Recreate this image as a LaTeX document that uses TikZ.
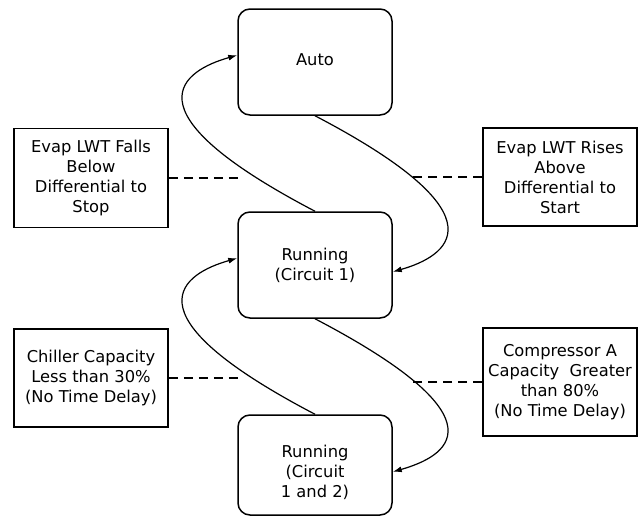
\documentclass[tikz,border=0pt]{standalone}
\usepackage{fontspec}
\setmainfont{DejaVu Sans}
\usetikzlibrary{arrows.meta}
\begin{document}
\begin{tikzpicture}[x=1pt,y=-1pt,
  txt/.style={align=center, font=\fontsize{16.3}{20}\selectfont},
  state/.style={draw, line width=1.5pt, rounded corners=12pt, minimum width=154pt, minimum height=106pt, txt, inner sep=0pt},
  cond/.style={draw, line width=1.7pt, minimum width=154pt, txt, inner sep=0pt},
  trans/.style={-{Latex[length=9pt,width=6pt]}, line width=1.2pt},
  link/.style={dash pattern=on 9pt off 6pt, line width=1.5pt}]
\useasboundingbox (0,0) rectangle (638,517);
% states
\node[state] (auto) at (315,62) {\raisebox{4pt}{Auto}};
\node[state] (r1) at (315,265) {Running\\(Circuit 1)};
\node[state, minimum height=100pt, label={[txt, yshift=-7pt]center:Running\\(Circuit\\1 and 2)}] (r2) at (315,465) {};
% conditions
\node[cond, minimum height=99pt] (lb1) at (91,178) {Evap LWT Falls\\Below\\Differential to\\Stop};
\node[cond, minimum height=98pt] (rb1) at (560,177) {Evap LWT Rises\\Above\\Differential to\\Start};
\node[cond, minimum height=98pt] (lb2) at (91,378) {Chiller Capacity\\Less than 30\%\\(No Time Delay)};
\node[cond, minimum height=108pt] (rb2) at (560,382) {Compressor A\\Capacity\ \ Greater\\than 80\%\\(No Time Delay)};
% dashed links
\coordinate (d1) at (240,178);
\coordinate (d2) at (412,177);
\coordinate (d3) at (240,378);
\coordinate (d4) at (412,382);
\draw[link] (lb1.east) -- (d1);
\draw[link] (rb1.west) -- (d2);
\draw[link] (lb2.east) -- (d3);
\draw[link] (rb2.west) -- (d4);
% transitions
\draw[trans] (r1.north) .. controls +(-195,-102) and +(-53,15) .. (auto.175);
\draw[trans] (auto.south) .. controls +(195,102) and +(53,-15) .. (r1.355);
\draw[trans] (r2.north) .. controls +(-195,-102) and +(-53,15) .. (r1.175);
\draw[trans] (r1.south) .. controls +(195,102) and +(53,-15) .. (r2.355);
\end{tikzpicture}
\end{document}
